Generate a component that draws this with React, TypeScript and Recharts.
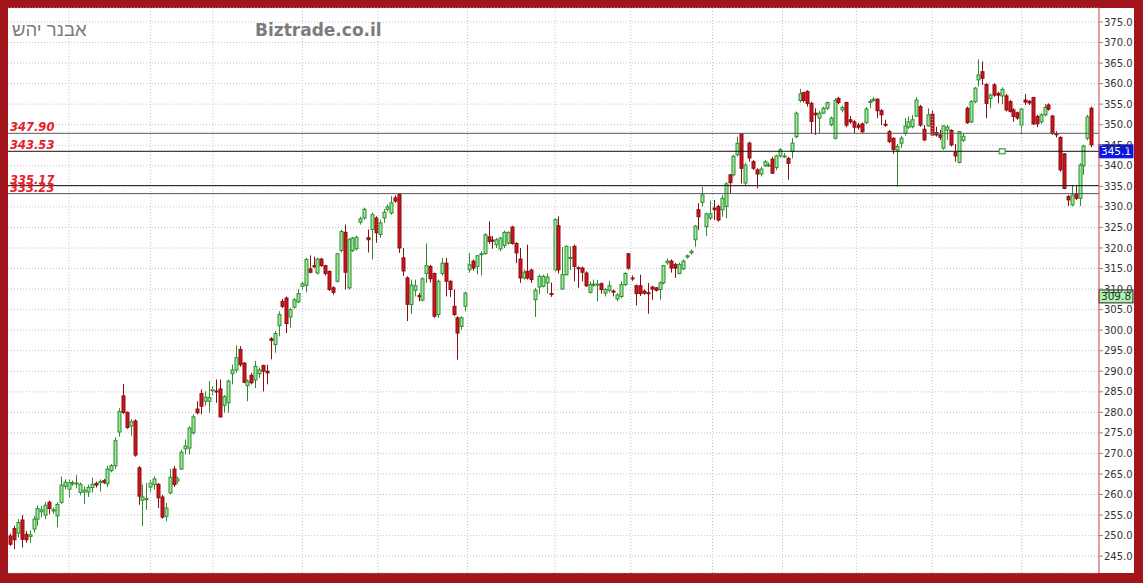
import React from 'react';
import { ComposedChart, Bar, XAxis, YAxis, CartesianGrid, ReferenceLine, ReferenceDot } from 'recharts';

const opens = [
  249.9, 251.7, 250.6, 253.8, 250.3, 249.8, 251.6, 254.0, 255.8, 255.0,
  258.1, 256.0, 254.8, 258.1, 262.0, 261.3, 262.6, 262.6, 260.5, 260.6,
  260.6, 261.7, 262.7, 262.9, 263.4, 262.6, 265.8, 267.0, 275.2, 284.0,
  280.0, 276.7, 277.9, 266.5, 258.6, 258.8, 261.8, 262.4, 262.5, 259.4,
  254.7, 260.4, 266.2, 263.3, 266.2, 271.1, 271.3, 275.0, 280.8, 284.6,
  282.7, 282.7, 285.3, 285.2, 285.7, 281.7, 282.3, 289.4, 290.3, 295.3,
  292.0, 286.5, 289.0, 287.9, 289.4, 291.4, 290.0, 297.9, 296.5, 301.1,
  307.0, 307.8, 303.2, 305.6, 306.9, 310.7, 310.9, 314.9, 315.7, 313.9,
  317.3, 315.7, 314.3, 310.3, 311.9, 319.4, 323.8, 310.3, 319.4, 319.8,
  326.3, 327.3, 322.5, 324.5, 327.3, 323.3, 327.3, 329.4, 328.5, 332.2,
  333.0, 317.6, 312.7, 306.2, 309.7, 308.4, 307.3, 313.8, 315.5, 313.8,
  303.8, 313.8, 316.3, 311.9, 305.8, 303.0, 300.9, 305.8, 314.7, 316.8,
  315.5, 318.4, 318.6, 322.7, 321.9, 320.8, 319.8, 320.6, 321.2, 325.1,
  321.1, 317.3, 312.7, 314.3, 314.6, 307.4, 310.5, 310.7, 311.5, 308.9,
  314.7, 325.4, 310.0, 313.5, 317.5, 320.4, 315.2, 315.1, 313.9, 309.2,
  311.0, 311.0, 311.3, 309.0, 309.7, 309.5, 307.6, 308.2, 311.1, 318.6,
  312.7, 310.8, 310.8, 309.5, 309.1, 310.5, 310.3, 309.9, 311.5, 316.4,
  316.8, 316.0, 313.8, 314.9, 317.8, 318.8, 322.0, 329.3, 331.1, 325.2,
  327.3, 329.7, 330.1, 329.3, 330.1, 337.8, 337.8, 342.7, 347.8, 335.8,
  345.5, 341.0, 339.0, 338.0, 340.0, 340.0, 341.6, 339.6, 342.4, 342.2,
  341.8, 343.5, 347.1, 355.9, 357.8, 358.1, 355.2, 352.8, 351.6, 352.8,
  354.0, 350.0, 346.7, 356.4, 353.6, 355.4, 351.2, 350.7, 349.9, 350.2,
  350.5, 355.4, 355.9, 356.2, 353.4, 350.1, 348.3, 346.7, 343.8, 345.5,
  347.9, 349.4, 349.5, 352.1, 354.4, 348.9, 349.7, 352.6, 348.1, 347.5,
  344.3, 348.7, 348.6, 343.2, 340.8, 346.2, 354.0, 350.7, 355.6, 360.9,
  362.9, 359.8, 356.4, 359.7, 357.6, 357.0, 357.0, 355.6, 353.6, 352.9,
  349.9, 356.0, 355.7, 356.6, 352.0, 350.7, 352.4, 354.8, 352.1, 347.8,
  346.9, 342.9, 332.5, 330.5, 333.1, 332.1, 340.0, 346.7, 354.0,
];

const highs = [
  250.5, 252.4, 254.0, 255.0, 251.1, 251.3, 254.8, 257.4, 257.2, 258.2,
  258.5, 256.9, 258.1, 264.4, 263.7, 263.7, 263.4, 264.7, 262.9, 262.0,
  262.4, 264.1, 263.1, 263.7, 263.8, 267.0, 267.4, 273.9, 281.0, 286.9,
  280.2, 278.3, 278.3, 266.9, 262.4, 262.8, 263.6, 264.4, 262.8, 259.9,
  258.0, 266.2, 266.9, 264.4, 270.9, 273.4, 276.6, 279.5, 282.7, 285.6,
  285.1, 287.6, 286.4, 288.0, 288.0, 284.2, 288.0, 291.6, 296.3, 296.1,
  292.2, 288.0, 289.6, 292.5, 290.9, 291.6, 291.6, 298.3, 299.8, 304.6,
  307.6, 308.2, 305.4, 307.8, 310.0, 311.9, 317.6, 318.2, 317.9, 317.6,
  317.6, 315.9, 314.5, 310.7, 318.8, 324.5, 325.7, 322.4, 322.7, 323.0,
  327.6, 329.8, 324.5, 328.6, 327.7, 326.9, 329.4, 330.6, 332.6, 332.8,
  333.4, 320.0, 313.1, 312.3, 312.3, 309.0, 312.9, 321.1, 315.9, 314.0,
  312.3, 317.6, 317.6, 312.1, 309.9, 303.4, 303.4, 309.4, 318.8, 317.2,
  318.3, 319.2, 323.6, 326.5, 322.9, 322.4, 322.7, 324.2, 324.0, 325.4,
  321.4, 320.0, 314.7, 320.8, 315.0, 310.3, 313.5, 313.5, 313.8, 311.6,
  327.3, 327.7, 320.2, 320.6, 320.4, 320.8, 315.5, 315.5, 314.3, 311.9,
  312.3, 312.2, 311.6, 310.3, 312.0, 309.9, 309.0, 311.9, 314.1, 318.8,
  313.3, 311.1, 313.5, 309.9, 311.5, 310.8, 310.5, 311.9, 315.9, 317.4,
  317.2, 316.4, 316.4, 317.2, 318.4, 319.6, 325.6, 330.9, 334.9, 328.6,
  331.5, 331.7, 330.5, 332.9, 336.0, 338.0, 342.7, 347.1, 347.9, 340.6,
  345.9, 341.4, 339.4, 339.8, 341.4, 340.8, 342.2, 342.7, 344.3, 343.1,
  342.2, 346.7, 353.2, 358.7, 358.0, 358.4, 355.6, 354.0, 353.4, 354.4,
  355.6, 352.0, 356.4, 356.8, 354.6, 355.6, 352.1, 351.1, 350.5, 350.5,
  354.3, 356.2, 356.7, 356.4, 353.8, 351.2, 348.7, 346.9, 345.3, 347.3,
  351.6, 352.0, 352.4, 356.7, 354.8, 349.9, 354.0, 353.6, 349.5, 348.7,
  349.9, 349.9, 348.9, 345.3, 348.5, 347.8, 354.4, 356.0, 359.2, 365.9,
  365.4, 360.1, 357.6, 360.1, 358.0, 359.1, 357.5, 356.0, 354.0, 353.2,
  354.0, 357.5, 356.0, 356.8, 352.4, 352.8, 355.0, 355.2, 352.4, 348.4,
  347.2, 343.1, 332.9, 335.3, 335.3, 340.6, 345.1, 352.4, 354.4,
];

const lows = [
  247.5, 246.7, 249.5, 247.1, 248.3, 248.2, 250.7, 252.4, 254.4, 254.0,
  255.2, 255.3, 252.0, 257.7, 261.3, 259.2, 262.1, 261.5, 259.8, 257.7,
  259.4, 260.5, 261.7, 260.7, 262.6, 261.8, 265.4, 266.2, 274.1, 279.6,
  276.0, 274.3, 269.2, 257.5, 252.3, 256.3, 260.4, 261.2, 256.7, 254.1,
  253.5, 260.0, 261.8, 262.6, 266.0, 269.7, 269.7, 274.6, 279.5, 279.5,
  281.6, 279.9, 284.1, 282.3, 278.7, 279.9, 279.9, 286.8, 289.6, 291.1,
  287.1, 282.7, 286.8, 285.9, 288.4, 285.1, 286.8, 292.9, 294.5, 298.5,
  305.4, 299.3, 300.6, 305.2, 306.6, 309.9, 309.2, 313.8, 315.2, 313.5,
  315.4, 313.3, 309.5, 308.6, 311.6, 318.9, 309.9, 309.9, 319.0, 319.4,
  325.7, 326.9, 318.9, 317.2, 321.3, 322.5, 326.1, 328.9, 328.1, 331.0,
  318.8, 313.2, 302.2, 304.0, 308.2, 307.0, 307.0, 311.5, 311.6, 303.0,
  303.0, 313.3, 308.2, 308.1, 303.4, 292.8, 300.1, 304.6, 314.0, 314.5,
  313.6, 313.3, 318.4, 321.0, 319.8, 320.0, 319.2, 320.0, 320.8, 320.8,
  316.3, 311.5, 312.3, 312.3, 311.5, 303.2, 308.8, 310.4, 308.9, 308.1,
  314.3, 313.8, 309.9, 313.3, 314.6, 311.9, 310.3, 311.9, 310.5, 308.9,
  310.5, 307.0, 308.9, 308.2, 309.2, 308.2, 307.0, 307.8, 310.7, 314.7,
  312.0, 306.0, 308.3, 308.6, 304.0, 307.4, 309.4, 307.4, 311.1, 315.9,
  314.0, 312.7, 313.6, 314.6, 317.4, 318.4, 320.3, 324.4, 330.1, 322.9,
  326.8, 326.8, 326.4, 327.6, 327.2, 333.3, 337.4, 342.3, 335.7, 335.0,
  341.0, 339.0, 334.5, 337.4, 339.7, 339.7, 338.0, 338.9, 342.0, 341.9,
  336.6, 341.8, 346.7, 355.4, 355.4, 354.4, 347.9, 347.5, 347.9, 352.6,
  353.6, 349.6, 346.4, 355.0, 353.0, 349.4, 350.2, 347.9, 348.8, 347.9,
  350.2, 354.0, 355.6, 351.6, 349.9, 349.5, 345.5, 342.9, 334.9, 344.3,
  347.3, 349.0, 349.1, 351.9, 349.5, 346.0, 349.5, 347.3, 347.1, 346.3,
  343.9, 346.3, 344.7, 341.0, 340.6, 345.8, 350.2, 350.4, 355.2, 359.3,
  359.7, 351.6, 354.0, 356.8, 355.2, 355.0, 353.2, 353.0, 350.7, 351.2,
  347.7, 354.8, 354.8, 349.9, 349.4, 350.2, 352.0, 353.4, 347.5, 346.9,
  338.6, 334.3, 330.2, 330.1, 331.7, 330.2, 337.8, 346.2, 344.5,
];

const closes = [
  247.9, 249.0, 253.2, 249.1, 249.0, 250.2, 254.0, 256.6, 256.3, 257.4,
  256.6, 256.3, 257.6, 262.3, 263.0, 262.9, 262.9, 262.8, 262.5, 261.1,
  261.7, 262.5, 262.3, 263.2, 262.9, 266.2, 267.0, 273.1, 280.2, 280.0,
  276.3, 277.7, 269.6, 259.6, 259.4, 259.0, 262.8, 263.8, 259.2, 254.5,
  256.7, 264.2, 262.4, 263.8, 270.3, 271.8, 276.2, 278.9, 279.9, 281.5,
  283.7, 283.6, 285.5, 285.0, 278.9, 283.8, 287.6, 290.3, 293.3, 291.6,
  287.3, 287.6, 287.2, 291.2, 290.3, 290.0, 289.6, 297.5, 299.2, 303.8,
  305.8, 301.6, 305.0, 307.4, 308.9, 311.3, 317.2, 314.1, 315.4, 317.3,
  315.7, 313.8, 309.9, 309.2, 318.6, 324.0, 314.1, 322.0, 322.4, 322.6,
  327.1, 329.4, 322.0, 328.1, 323.7, 326.1, 328.7, 330.0, 331.0, 331.4,
  320.0, 314.4, 306.3, 311.0, 310.8, 308.2, 312.5, 315.7, 312.5, 303.4,
  311.9, 316.3, 311.9, 309.9, 303.8, 299.3, 303.0, 309.0, 315.9, 315.1,
  318.1, 318.6, 323.2, 321.6, 321.8, 322.0, 322.4, 323.8, 323.8, 321.1,
  318.8, 312.7, 314.1, 312.7, 312.3, 309.7, 313.1, 313.1, 312.9, 308.7,
  326.9, 314.7, 313.5, 320.4, 317.7, 315.5, 315.0, 314.1, 310.8, 311.1,
  311.2, 311.2, 309.9, 309.9, 310.8, 309.3, 308.6, 311.1, 313.8, 315.1,
  312.5, 308.9, 308.9, 309.0, 308.9, 310.0, 309.7, 311.5, 315.7, 316.8,
  315.1, 315.1, 316.0, 316.8, 318.1, 319.2, 325.3, 327.6, 332.9, 328.3,
  328.3, 329.3, 326.8, 332.1, 335.6, 335.9, 342.3, 345.5, 339.4, 340.2,
  341.9, 339.4, 338.0, 339.2, 341.0, 340.2, 338.2, 342.4, 343.9, 342.4,
  340.6, 345.5, 352.8, 357.5, 355.9, 355.2, 350.8, 352.4, 352.8, 354.0,
  355.4, 351.6, 355.9, 355.4, 354.2, 349.9, 350.7, 349.4, 349.4, 348.3,
  353.8, 355.7, 356.2, 353.4, 352.4, 349.9, 345.9, 344.0, 344.7, 346.7,
  349.7, 350.7, 351.2, 356.0, 349.9, 346.3, 352.4, 347.5, 347.5, 346.9,
  349.7, 349.4, 345.1, 342.4, 348.3, 347.2, 350.5, 355.6, 358.9, 362.1,
  361.3, 355.2, 357.2, 357.2, 357.2, 358.6, 353.6, 353.2, 352.0, 351.6,
  353.8, 355.5, 355.3, 350.2, 350.2, 352.4, 354.2, 353.8, 347.9, 347.6,
  339.0, 334.5, 331.7, 332.9, 332.1, 340.2, 344.8, 351.9, 345.1,
];

// month separators, in candle-index units
const monthBreaks = [15, 36, 52, 75, 94.5, 117.5, 140, 159.5, 180.5, 198.5, 217.5, 237, 260];
const priceTicks = [245, 250, 255, 260, 265, 270, 275, 280, 285, 290, 295, 300, 305, 310, 315, 320, 325, 330, 335, 340, 345, 350, 355, 360, 365, 370, 375];
const supportLevels = [
  { value: 347.9, label: '347.90', color: '#5a5a5a' },
  { value: 343.53, label: '343.53', color: '#111111' },
  { value: 335.17, label: '335.17', color: '#111111' },
  { value: 333.23, label: '333.23', color: '#5a5a5a' },
];
const lastPrice = 345.1;
const markerPrice = 309.8;
const anchorPoint = { index: 255, value: 343.53 };
const titleHeb = 'אבנר יהש';
const titleSite = 'Biztrade.co.il';

const data = opens.map((o, i) => ({
  i,
  range: [lows[i], highs[i]],
  o,
  h: highs[i],
  l: lows[i],
  c: closes[i],
}));

const FRAME = '#A2151D';
const FONT = '"DejaVu Sans", Verdana, sans-serif';

const Candle = (props: any) => {
  const { x, y, width, height, payload } = props;
  if (!payload || x == null || y == null) return null;
  const { o, c, h, l } = payload;
  const top = Math.min(y, y + height);
  const hgt = Math.abs(height);
  const pos = (v: number) => (h === l ? top : top + ((h - v) / (h - l)) * hgt);
  const cx = Math.round(x + width / 2) + 0.5;
  const up = c >= o;
  const yO = pos(o);
  const yC = pos(c);
  const bTop = Math.min(yO, yC);
  const bH = Math.max(Math.abs(yO - yC), 1);
  const fill = up ? '#9BE89B' : '#D0141C';
  const stroke = up ? '#2E8B2E' : '#8A0E13';
  return (
    <g>
      <line x1={cx} x2={cx} y1={top} y2={top + hgt} stroke={stroke} strokeWidth={1} />
      <rect x={cx - 1.5} y={bTop} width={3} height={bH} fill={fill} stroke={stroke} strokeWidth={1} />
    </g>
  );
};

const supportLabel = (text: string) => (props: any) => {
  const vb = props.viewBox || {};
  return (
    <text
      x={(vb.x || 0) + 2}
      y={(vb.y || 0) - 2}
      fill="#E5202A"
      fontSize={11.5}
      fontStyle="italic"
      fontWeight="bold"
      fontFamily={FONT}
    >
      {text}
    </text>
  );
};

const priceBox = (value: number, bg: string, fg: string, border: string) => (props: any) => {
  const vb = props.viewBox || {};
  const bx = (vb.x || 0) + (vb.width || 0);
  const by = vb.y || 0;
  return (
    <g>
      <rect x={bx} y={by} width={34} height={13} fill={bg} stroke={border} strokeWidth={1} />
      <text x={bx + 2} y={by + 10.5} fill={fg} fontSize={10.5} fontFamily={FONT}>
        {value.toFixed(1)}
      </text>
    </g>
  );
};

const AnchorSquare = (props: any) => {
  const { cx, cy } = props;
  if (cx == null || cy == null) return null;
  return <rect x={cx - 3} y={cy - 2.5} width={6} height={5} fill="#E6F7E6" stroke="#2E8B2E" strokeWidth={1} />;
};

export default function App() {
  return (
    <div style={{ position: 'absolute', left: 0, top: 0, width: 1143, height: 583, background: FRAME, overflow: 'hidden' }}>
      <div style={{ position: 'absolute', left: 8, top: 8, width: 1126, height: 565, background: '#FFFFFF' }} />
      <div style={{ position: 'absolute', left: 0, top: 0 }}>
        <ComposedChart width={1143} height={583} data={data} margin={{ top: 8, right: 9, bottom: 10, left: 8 }}>
          <CartesianGrid horizontal vertical={false} stroke="#C4C4C4" strokeDasharray="1 2" />
          <XAxis dataKey="i" type="number" domain={[-0.7, 279.9]} allowDataOverflow hide />
          <YAxis
            orientation="right"
            type="number"
            domain={[240.9, 378.4]}
            allowDataOverflow
            ticks={priceTicks}
            interval={0}
            width={35}
            tickSize={4}
            tickMargin={1}
            tickFormatter={(v: number) => v.toFixed(1)}
            tick={{ fill: '#333333', fontSize: 10, fontFamily: FONT }}
            tickLine={{ stroke: '#888888' }}
            axisLine={{ stroke: '#D83A3A' }}
          />
          {monthBreaks.map((m) => (
            <ReferenceLine key={'m' + m} x={m} stroke="#C4C4C4" strokeDasharray="1 2" />
          ))}
          <Bar dataKey="range" barSize={3} shape={Candle} isAnimationActive={false} />
          {supportLevels.map((s) => (
            <ReferenceLine key={s.label} y={s.value} stroke={s.color} strokeWidth={1} label={supportLabel(s.label)} />
          ))}
          <ReferenceDot x={anchorPoint.index} y={anchorPoint.value} shape={AnchorSquare} />
          <ReferenceLine y={lastPrice} stroke="none" ifOverflow="visible" label={priceBox(lastPrice, '#0B14E8', '#FFFFFF', '#0B14E8')} />
          <ReferenceLine y={markerPrice} stroke="none" ifOverflow="visible" label={priceBox(markerPrice, '#B2F0B2', '#1E3A1E', '#222222')} />
        </ComposedChart>
      </div>
      <svg width={1143} height={583} style={{ position: 'absolute', left: 0, top: 0, pointerEvents: 'none' }}>
        <text x={12} y={36} fill="#7C7C7C" fontSize={18.5} fontFamily='"Liberation Sans", Arial, "DejaVu Sans", sans-serif'>{titleHeb}</text>
        <text x={255} y={36} fill="#7C7C7C" fontSize={17} fontWeight="bold" fontFamily={FONT}>{titleSite}</text>
      </svg>
    </div>
  );
}
